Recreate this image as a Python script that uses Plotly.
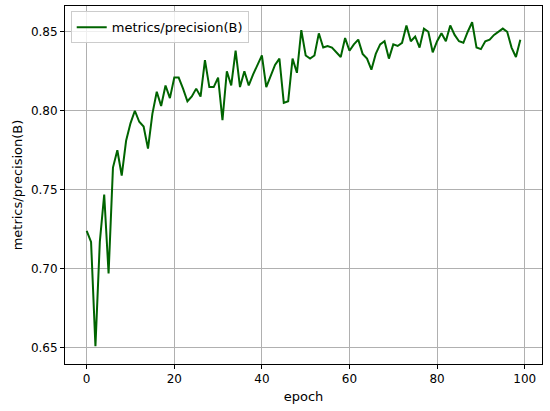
import plotly.graph_objects as go

epochs = list(range(100))
precision = [
    0.724, 0.717, 0.651, 0.717, 0.747, 0.697, 0.764, 0.775, 0.759, 0.781,
    0.792, 0.800, 0.793, 0.790, 0.776, 0.798, 0.812, 0.803, 0.816, 0.808,
    0.821, 0.821, 0.814, 0.806, 0.809, 0.814, 0.809, 0.832, 0.815, 0.815,
    0.821, 0.794, 0.825, 0.816, 0.838, 0.815, 0.825, 0.816, 0.823, 0.829,
    0.835, 0.815, 0.822, 0.829, 0.833, 0.805, 0.806, 0.833, 0.824, 0.851,
    0.835, 0.833, 0.835, 0.849, 0.840, 0.841, 0.840, 0.837, 0.834, 0.846,
    0.838, 0.842, 0.845, 0.836, 0.833, 0.826, 0.836, 0.842, 0.844, 0.833,
    0.842, 0.841, 0.843, 0.854, 0.844, 0.847, 0.840, 0.852, 0.850, 0.837,
    0.844, 0.849, 0.844, 0.854, 0.848, 0.844, 0.843, 0.850, 0.856, 0.840,
    0.839, 0.844, 0.845, 0.848, 0.850, 0.852, 0.850, 0.840, 0.834, 0.845,
]
series_name = "metrics/precision(B)"
x_title = "epoch"
y_title = "metrics/precision(B)"

fig = go.Figure()
fig.add_trace(go.Scatter(
    x=epochs, y=precision, mode="lines", name=series_name,
    line=dict(color="#006400", width=2),
))

font_family = "DejaVu Sans"
axis_common = dict(
    showline=True, linecolor="black", linewidth=1, mirror=True,
    ticks="outside", ticklen=4, tickcolor="black", tickwidth=1,
    showgrid=True, gridcolor="#b0b0b0", gridwidth=1,
    zeroline=False,
    tickfont=dict(family=font_family, size=12, color="black"),
    title_font=dict(family=font_family, size=13, color="black"),
)

fig.update_xaxes(range=[-4.95, 103.95], tick0=0, dtick=20,
                 title_text=x_title, title_standoff=6, **axis_common)
fig.update_yaxes(range=[0.6397, 0.8663], tick0=0.65, dtick=0.05, tickformat=".2f",
                 title_text=y_title, title_standoff=5, **axis_common)

fig.update_layout(
    width=550, height=411,
    margin=dict(l=65, r=8, t=6, b=47),
    paper_bgcolor="white", plot_bgcolor="white",
    font=dict(family=font_family, size=12, color="black"),
    showlegend=True,
    legend=dict(
        x=0.012, y=0.985, xanchor="left", yanchor="top",
        bgcolor="rgba(255,255,255,0.8)", bordercolor="#cccccc", borderwidth=1,
        font=dict(family=font_family, size=13, color="black"),
    ),
)

fig.write_html("out.html", config={"displayModeBar": False},
               post_script="document.body.style.margin='0px';")
